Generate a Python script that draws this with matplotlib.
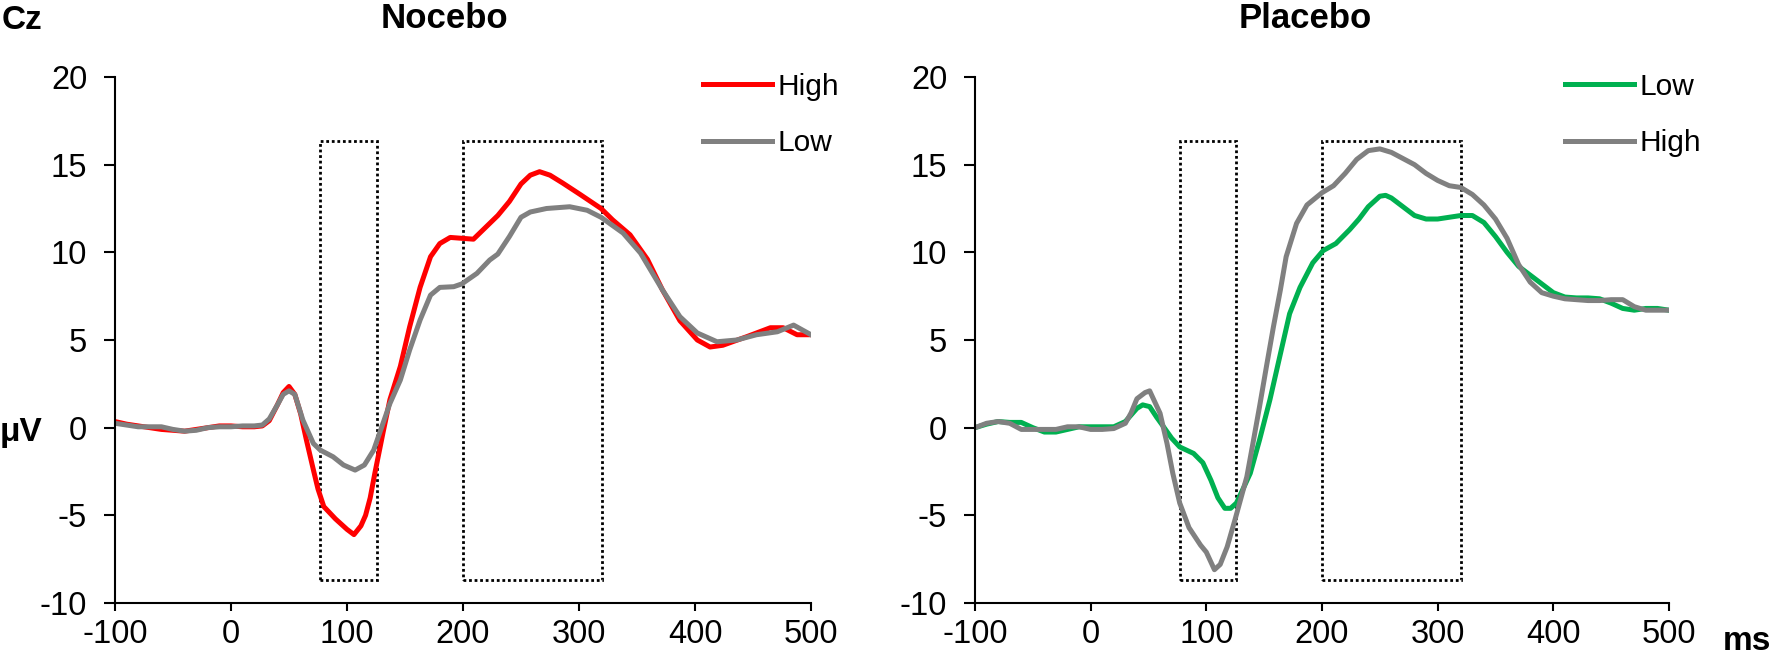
import matplotlib
matplotlib.use("Agg")
from matplotlib import pyplot as plt
from matplotlib.patches import Rectangle

plt.rcParams["font.family"] = ["Liberation Sans", "DejaVu Sans"]
plt.rcParams["axes.unicode_minus"] = False

# Nocebo, High (red)
noc_high_t = [-100, -90, -80, -70, -60, -50, -40, -30, -20, -10, 0, 10, 20, 27, 33, 40, 45, 50,
              55, 60, 65, 71, 75, 80, 90, 100, 106, 112, 116, 120, 124, 131, 137, 146, 154, 163,
              172, 180, 189, 199, 209, 223, 230, 240, 250, 258, 266, 275, 286, 301, 319, 329,
              344, 359, 372, 387, 402, 413, 424, 445, 465, 476, 488, 500]
noc_high_v = [0.35, 0.2, 0.1, 0.0, -0.1, -0.15, -0.2, -0.1, 0.0, 0.1, 0.1, 0.05, 0.05, 0.1, 0.4,
              1.3, 2.0, 2.35, 1.9, 0.8, -0.7, -2.4, -3.5, -4.5, -5.2, -5.8, -6.1, -5.6, -5.0,
              -4.0, -2.6, -0.3, 1.6, 3.5, 5.75, 8.0, 9.75, 10.5, 10.85, 10.8, 10.75, 11.65,
              12.1, 12.9, 13.9, 14.4, 14.6, 14.4, 13.95, 13.3, 12.5, 11.85, 11.0, 9.6, 7.85,
              6.1, 5.0, 4.6, 4.7, 5.2, 5.7, 5.7, 5.3, 5.3]

# Nocebo, Low (grey)
noc_low_t = [-100, -90, -80, -70, -60, -50, -40, -30, -20, -10, 0, 10, 20, 27, 33, 40, 45, 50,
             55, 62, 71, 77, 88, 97, 107, 115, 123, 130, 137, 146, 154, 163, 172, 180, 192,
             199, 212, 223, 230, 240, 250, 258, 272, 292, 307, 319, 338, 353, 372, 387, 402,
             419, 436, 453, 471, 485, 500]
noc_low_v = [0.25, 0.15, 0.05, 0.05, 0.05, -0.1, -0.2, -0.15, 0.0, 0.05, 0.05, 0.1, 0.1, 0.15,
             0.5, 1.3, 1.9, 2.1, 1.9, 0.43, -0.9, -1.28, -1.66, -2.13, -2.42, -2.13, -1.28,
             0.05, 1.38, 2.72, 4.43, 6.14, 7.56, 8.0, 8.04, 8.2, 8.8, 9.56, 9.9, 10.9, 12.0,
             12.3, 12.5, 12.6, 12.4, 12.0, 11.1, 9.96, 7.85, 6.33, 5.4, 4.9, 5.0, 5.3, 5.47,
             5.85, 5.3]

# Placebo, Low (green)
pla_low_t = [-100, -90, -80, -70, -60, -50, -40, -30, -20, -10, 0, 10, 20, 30, 40, 45, 51, 57,
             63, 70, 77, 89, 97, 104, 110, 116, 121, 126, 131, 138, 146, 155, 164, 172, 181,
             192, 201, 212, 224, 232, 240, 250, 255, 260, 270, 280, 290, 300, 310, 320, 330,
             340, 350, 360, 370, 380, 390, 400, 410, 420, 430, 440, 450, 460, 470, 480, 490,
             500]
pla_low_v = [0.0, 0.2, 0.35, 0.3, 0.3, 0.0, -0.25, -0.25, -0.1, 0.05, 0.05, 0.05, 0.05, 0.35,
             1.1, 1.3, 1.2, 0.6, 0.05, -0.6, -1.1, -1.47, -2.0, -3.0, -4.0, -4.6, -4.6, -4.3,
             -3.6, -2.6, -0.7, 1.6, 4.2, 6.5, 8.0, 9.4, 10.1, 10.5, 11.3, 11.9, 12.6, 13.2,
             13.25, 13.1, 12.6, 12.1, 11.9, 11.9, 12.0, 12.1, 12.1, 11.7, 10.9, 10.0, 9.2, 8.7,
             8.2, 7.7, 7.45, 7.4, 7.4, 7.35, 7.1, 6.8, 6.7, 6.8, 6.8, 6.7]

# Placebo, High (grey)
pla_high_t = [-100, -90, -80, -70, -60, -50, -40, -30, -20, -10, 0, 10, 20, 30, 35, 40, 47, 51,
              60, 66, 71, 77, 85, 95, 100, 107, 112, 118, 125, 130, 135, 140, 146, 152, 158,
              164, 169, 178, 187, 200, 210, 220, 230, 240, 250, 260, 270, 280, 290, 300, 310,
              320, 330, 340, 350, 360, 370, 380, 390, 400, 410, 420, 430, 440, 450, 460, 470,
              480, 490, 500]
pla_high_v = [0.0, 0.25, 0.35, 0.25, -0.1, -0.1, -0.1, -0.1, 0.05, 0.05, -0.1, -0.1, -0.05, 0.25,
              0.85, 1.65, 2.0, 2.1, 0.82, -0.9, -2.6, -4.3, -5.7, -6.7, -7.1, -8.1, -7.8, -6.8,
              -5.2, -4.0, -2.8, -1.0, 1.2, 3.5, 5.75, 7.85, 9.75, 11.65, 12.7, 13.4, 13.8, 14.5,
              15.3, 15.8, 15.9, 15.7, 15.35, 15.0, 14.5, 14.1, 13.8, 13.7, 13.3, 12.7, 11.9,
              10.8, 9.3, 8.3, 7.7, 7.5, 7.35, 7.3, 7.25, 7.25, 7.3, 7.3, 6.9, 6.7, 6.7, 6.7]

# analysis windows (ms) and their vertical extent (µV)
windows = [(77, 126), (200, 320)]
window_y = (-8.7, 16.35)

RED = "#ff0000"
GREY = "#808080"
GREEN = "#00b050"
LW = 3.6

fig = plt.figure(figsize=(17.72, 6.55), dpi=100)
W, H = 1772, 655
ax1 = fig.add_axes([115 / W, 52 / H, 696 / W, 526 / H])
ax2 = fig.add_axes([975 / W, 52 / H, 694 / W, 526 / H])

ax1.plot(noc_high_t, noc_high_v, color=RED, lw=LW, label="High", solid_joinstyle="round")
ax1.plot(noc_low_t, noc_low_v, color=GREY, lw=LW, label="Low", solid_joinstyle="round")
ax2.plot(pla_low_t, pla_low_v, color=GREEN, lw=LW, label="Low", solid_joinstyle="round")
ax2.plot(pla_high_t, pla_high_v, color=GREY, lw=LW, label="High", solid_joinstyle="round")

for ax, lx in [(ax1, 0.845), (ax2, 0.85)]:
    for t0, t1 in windows:
        ax.add_patch(Rectangle((t0, window_y[0]), t1 - t0, window_y[1] - window_y[0],
                               fill=False, edgecolor="black", lw=2.0,
                               linestyle=(0, (1, 1)), zorder=1))
    ax.set_xlim(-100, 500)
    ax.set_ylim(-10, 20)
    ax.set_xticks(range(-100, 501, 100))
    ax.set_yticks(range(-10, 21, 5))
    for s in ["top", "right"]:
        ax.spines[s].set_visible(False)
    for s in ["left", "bottom"]:
        ax.spines[s].set_linewidth(1.5)
    ax.tick_params(axis="y", direction="out", length=8, width=1.5, pad=12, labelsize=23.5)
    ax.tick_params(axis="x", direction="out", length=6, width=1.5, pad=5.5, labelsize=23.5)
    ax.legend(loc="upper left", bbox_to_anchor=(lx, 1.008), frameon=False,
              fontsize=21.5, handlelength=2.3, handletextpad=0.2, labelspacing=0.95,
              borderpad=0, borderaxespad=0)

fig.text(2 / W, 1 - 29 / H, "Cz", fontsize=24, fontweight="bold", va="baseline", ha="left")
fig.text(444 / W, 1 - 28 / H, "Nocebo", fontsize=25, fontweight="bold", va="baseline", ha="center")
fig.text(1305 / W, 1 - 28 / H, "Placebo", fontsize=25, fontweight="bold", va="baseline", ha="center")
fig.text(0 / W, 1 - 441 / H, "μV", fontsize=24, fontweight="bold", va="baseline", ha="left")
fig.text(1723 / W, 1 - 650 / H, "ms", fontsize=24, fontweight="bold", va="baseline", ha="left")

fig.savefig("out.png", dpi=100)
